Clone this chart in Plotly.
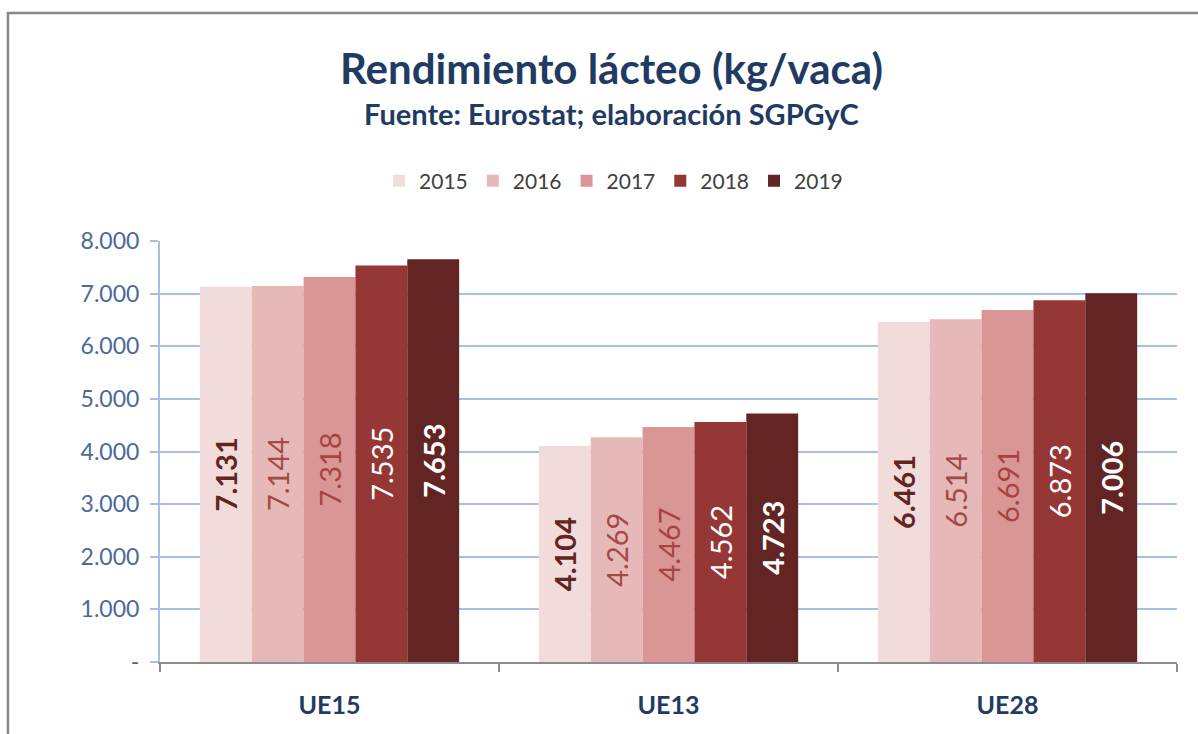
import plotly.graph_objects as go

# Milk yield per cow (kg/cow) by EU aggregate and year
regions = ["UE15", "UE13", "UE28"]
years = ["2015", "2016", "2017", "2018", "2019"]
y2015 = [7131, 4104, 6461]
y2016 = [7144, 4269, 6514]
y2017 = [7318, 4467, 6691]
y2018 = [7535, 4562, 6873]
y2019 = [7653, 4723, 7006]
series = [y2015, y2016, y2017, y2018, y2019]

tick_vals = [0, 1000, 2000, 3000, 4000, 5000, 6000, 7000, 8000]
tick_text = ["-", "1.000", "2.000", "3.000", "4.000", "5.000", "6.000", "7.000", "8.000"]

bar_colors = ["#F2DCDB", "#E6B9B8", "#D99694", "#953735", "#632523"]
label_colors = ["#632523", "#A24A47", "#A44542", "#FFFFFF", "#FFFFFF"]
label_weights = ["bold", "normal", "normal", "normal", "bold"]

FONT = "Lato, 'Open Sans', sans-serif"
NAVY = "#1F3B63"


def fmt(v):
    return f"{v:,}".replace(",", ".")


fig = go.Figure()
for yr, vals, col, lcol, lw in zip(years, series, bar_colors, label_colors, label_weights):
    fig.add_trace(go.Bar(
        name=yr,
        x=regions,
        y=vals,
        marker=dict(color=col, line=dict(width=0)),
        text=[fmt(v) for v in vals],
        textposition="inside",
        insidetextanchor="middle",
        textangle=-90,
        constraintext="none",
        textfont=dict(family=FONT, size=29, color=lcol, weight=lw),
        hoverinfo="skip",
    ))

fig.update_layout(
    width=1198,
    height=734,
    margin=dict(l=160, r=21, t=241, b=72),
    paper_bgcolor="white",
    plot_bgcolor="white",
    barmode="group",
    bargap=0.235,
    bargroupgap=0,
    showlegend=True,
    legend=dict(
        orientation="h",
        x=0.446, xanchor="center",
        y=1.1425, yanchor="middle",
        font=dict(family=FONT, size=21, color="#404040"),
        itemwidth=30,
        traceorder="normal",
    ),
    annotations=[
        dict(text="<b>Rendimiento lácteo (kg/vaca)</b>", xref="paper", yref="paper",
             x=0.4435, y=1.411, xanchor="center", yanchor="middle", showarrow=False,
             font=dict(family=FONT, size=42, color=NAVY)),
        dict(text="<b>Fuente: Eurostat; elaboración SGPGyC</b>", xref="paper", yref="paper",
             x=0.4435, y=1.304, xanchor="center", yanchor="middle", showarrow=False,
             font=dict(family=FONT, size=29, color=NAVY)),
    ],
    shapes=[
        # outer chart frame (left and top edges fall inside the view)
        dict(type="rect", xref="paper", yref="paper",
             x0=-0.1495, x1=1.2, y0=-0.3, y1=1.5416,
             line=dict(color="#878787", width=2.5), fillcolor="rgba(0,0,0,0)", layer="below"),
    ],
)

fig.update_xaxes(
    type="category",
    showgrid=False,
    showline=True,
    linecolor="#8C8C8C",
    linewidth=1.5,
    ticks="outside",
    tickson="boundaries",
    ticklen=8,
    tickcolor="#8C8C8C",
    tickwidth=1.5,
    tickfont=dict(family=FONT, size=25, color=NAVY, weight="bold"),
    ticklabelstandoff=20,
)

fig.update_yaxes(
    range=[0, 8000],
    tickvals=tick_vals,
    ticktext=tick_text,
    showgrid=True,
    gridcolor="#A6BFE6",
    gridwidth=2,
    showline=True,
    linecolor="#A6BFE6",
    linewidth=2,
    ticks="outside",
    ticklen=8,
    tickcolor="#A6BFE6",
    tickwidth=2,
    zeroline=False,
    tickfont=dict(family=FONT, size=23, color="#4A6A98"),
    ticklabelstandoff=6,
)

fig.write_html("out.html")
